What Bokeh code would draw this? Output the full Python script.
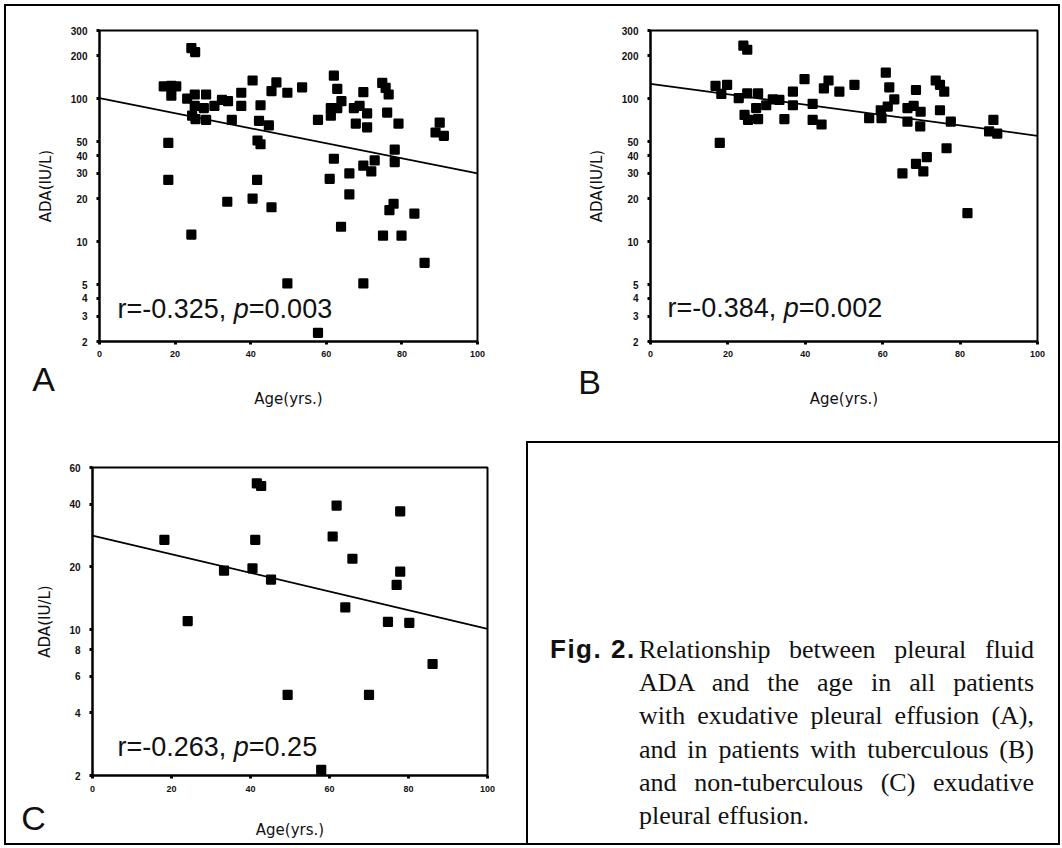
from bokeh.plotting import figure
from bokeh.models import Range1d, FixedTicker, NumeralTickFormatter, Label, Div
from bokeh.layouts import row, column
from bokeh.embed import file_html
from bokeh.resources import INLINE

# ---------------- data ----------------
x_ticks = [0, 20, 40, 60, 80, 100]
ab_y_ticks = [2, 3, 4, 5, 10, 20, 30, 40, 50, 100, 200, 300]
c_y_ticks = [2, 4, 6, 8, 10, 20, 40, 60]

# Panel A: all exudative effusions
a_age = [24.3, 25.3, 17.0, 19.0, 20.3, 19.0, 23.2, 25.2, 28.2, 25.2, 27.6, 24.5, 25.4,
         28.2, 30.4, 32.4, 34.0, 35.0, 37.5, 37.5, 40.5, 42.6, 42.2, 44.8, 46.8, 45.5,
         49.7, 41.8, 42.6, 18.2, 18.2, 41.7, 33.8, 40.5, 45.5, 24.3, 49.7,
         53.6, 62.0, 62.9, 64.0, 61.2, 61.2, 62.9, 57.8, 69.8, 67.3, 68.8, 70.8, 67.8,
         70.8, 74.8, 75.7, 76.5, 76.1, 79.1, 90.0, 88.9, 91.1, 62.0, 72.8, 78.1, 78.1,
         69.8, 71.9, 66.1, 60.9, 66.1, 77.8, 76.7, 83.3, 63.9, 75.0, 79.9, 86.0, 69.8, 57.8]
a_ada = [226, 212, 122, 123, 122, 105, 100, 107, 107, 89, 86, 76, 72,
         71, 89, 98, 96, 71, 110, 89, 134, 90, 70, 65, 130, 113,
         110, 51, 48, 49, 27, 27, 19, 20, 17.4, 11.2, 5.1,
         120, 145, 117, 96, 86, 76, 86, 71, 111, 86, 89, 79, 67,
         63, 129, 119, 107, 80, 67, 68, 58, 55, 38, 37, 44, 36,
         34, 31, 30, 27.5, 21.4, 18.4, 16.6, 15.7, 12.7, 11.0, 11.0, 7.1, 5.1, 2.3]

# Panel B: tuberculous effusions
b_age = [24.0, 25.0, 16.8, 19.8, 18.3, 22.8, 25.0, 27.8, 24.3, 25.2, 27.3, 27.8, 29.9,
         31.6, 33.3, 34.6, 36.8, 36.8, 39.8, 41.9, 41.9, 44.2, 44.8, 46.0, 48.8, 52.7,
         56.5, 60.8, 61.7, 59.5, 59.7, 61.3, 63.0, 68.6, 66.4, 68.0, 69.8, 66.4, 69.7,
         73.7, 74.8, 75.9, 74.8, 77.6, 88.6, 87.5, 89.6, 17.9, 76.5, 71.4, 68.6, 70.5,
         65.1, 81.9]
b_ada = [235, 220, 123, 125, 108, 101, 109, 109, 77, 71, 86, 72, 90,
         99, 98, 72, 112, 90, 137, 92, 71, 66, 118, 134, 112, 125,
         73, 152, 120, 83, 73, 88, 99, 115, 86, 89, 81, 69, 64,
         134, 125, 112, 83, 69, 71, 59, 57, 49, 45, 39, 35, 31,
         30, 15.8]

# Panel C: non-tuberculous effusions
c_age = [41.6, 42.7, 61.8, 77.9, 18.2, 41.2, 60.8, 65.8, 33.3, 40.5, 45.2, 77.9, 77.0,
         64.0, 24.1, 74.8, 80.2, 86.1, 49.4, 70.0, 57.9]
c_ada = [50.4, 48.9, 39.4, 37.0, 27.0, 27.0, 28.0, 21.9, 19.2, 19.7, 17.4, 19.0, 16.4,
         12.8, 11.0, 10.9, 10.8, 6.85, 4.87, 4.87, 2.13]

# regression lines (value at age 0 and at age 100)
fit_age = [0, 100]
a_fit = [101, 30]
b_fit = [127, 55]
c_fit = [28.3, 10.1]

a_stat = ("-0.325", "0.003")
b_stat = ("-0.384", "0.002")
c_stat = ("-0.263", "0.25")

caption_lines = [
    "Relationship between pleural fluid",
    "ADA and the age in all patients",
    "with exudative pleural effusion (A),",
    "and in patients with tuberculous (B)",
    "and non-tuberculous (C) exudative",
    "pleural effusion.",
]

# ---------------- helpers ----------------
ARIAL_W = {'r': 0.333, '=': 0.584, '-': 0.333, '.': 0.278, ',': 0.278, ' ': 0.278, 'p': 0.556}


def text_w(s, fs):
    return sum(ARIAL_W.get(ch, 0.556) for ch in s) * fs


def panel(width, height, mbl, mbr, mbt, mbb, y_lo, y_hi, yticks, ages, vals, fit,
          stat, stat_pos, letter, letter_pos, ylab_sd, xtick_sd, xlab_sd):
    p = figure(width=width, height=height, x_range=Range1d(0, 100),
               y_range=Range1d(y_lo, y_hi), y_axis_type="log",
               output_backend="svg", toolbar_location=None,
               min_border_left=mbl, min_border_right=mbr,
               min_border_top=mbt, min_border_bottom=mbb)
    p.grid.visible = False
    p.outline_line_color = "black"
    p.outline_line_width = 2
    p.background_fill_color = "white"
    p.border_fill_color = "white"

    for ax in p.axis:
        ax.axis_line_color = "black"
        ax.axis_line_width = 2
        ax.major_tick_line_color = "black"
        ax.major_tick_line_width = 3
        ax.major_tick_in = 0
        ax.major_tick_out = 3
        ax.minor_tick_line_color = None
        ax.major_label_text_font = "Liberation Sans"
        ax.major_label_text_font_style = "bold"
        ax.major_label_text_color = "#111111"
        ax.axis_label_text_font = "DejaVu Sans"
        ax.axis_label_text_font_style = "normal"
        ax.axis_label_text_font_size = "15px"
        ax.axis_label_text_color = "#111111"

    p.xaxis.ticker = FixedTicker(ticks=x_ticks)
    p.xaxis.major_label_text_font_size = "9px"
    p.xaxis.major_label_standoff = xtick_sd
    p.xaxis.axis_label = "Age(yrs.)"
    p.xaxis.axis_label_standoff = xlab_sd

    p.yaxis.ticker = FixedTicker(ticks=yticks)
    p.yaxis.formatter = NumeralTickFormatter(format="0")
    p.yaxis.major_label_text_font_size = "10px"
    p.yaxis.major_label_standoff = 9
    p.yaxis.axis_label = "ADA(IU/L)"
    p.yaxis.axis_label_standoff = ylab_sd

    p.line(fit_age, fit, line_color="black", line_width=1.7)
    p.scatter(ages, vals, marker="square", size=8, fill_color="black",
              line_color="black", line_width=2.2, line_join="round")

    # r / p statistic text (p in italics)
    fs = 27
    sx, sy = stat_pos
    part1 = "r=" + stat[0] + ","
    w1 = text_w(part1 + " ", fs)
    wp = text_w("p", fs)
    common = dict(x_units="screen", y_units="screen", text_font="Liberation Sans",
                  text_font_size=f"{fs}px", text_baseline="middle", text_align="left",
                  text_color="#111111")
    p.add_layout(Label(x=sx, y=sy, text=part1, **common))
    p.add_layout(Label(x=sx + w1, y=sy, text="p", text_font_style="italic", **common))
    p.add_layout(Label(x=sx + w1 + wp, y=sy, text="=" + stat[1], **common))

    # panel letter, kept in the left side panel so it is not clipped by the frame
    lx, ly = letter_pos
    p.add_layout(Label(x=lx, y=ly, text=letter, x_units="screen", y_units="screen",
                       text_font="Liberation Sans", text_font_size="34px",
                       text_align="center", text_baseline="middle",
                       text_color="#111111"), "left")
    return p


figA = panel(521, 435, 93, 50, 24, 100, 2, 300, ab_y_ticks, a_age, a_ada, a_fit,
             a_stat, (18, 33), "A", (33, -37), 13, 6, 30)
figB = panel(531, 435, 123, 21, 21, 100, 2, 300, ab_y_ticks, b_age, b_ada, b_fit,
             b_stat, (17, 34), "B", (28, -40), 13, 6, 30)
figC = panel(520, 402, 86, 39, 26, 68, 2, 60, c_y_ticks, c_age, c_ada, c_fit,
             c_stat, (25, 29), "C", (25, -42), 12, 7, 26)


def bar(w, h, color="#000000"):
    return Div(text="", width=w, height=h, margin=0,
               styles={"background-color": color})


line_divs = []
for i, ln in enumerate(caption_lines):
    if i < len(caption_lines) - 1:
        line_divs.append(f'<div style="text-align:justify;text-align-last:justify;">{ln}</div>')
    else:
        line_divs.append(f'<div style="text-align:left;">{ln}</div>')

cap_html = (
    '<div style="position:relative;width:530px;height:400px;color:#111;">'
    '<div style="position:absolute;left:22px;top:190px;font-family:\'Liberation Sans\',sans-serif;'
    'font-weight:bold;font-size:26px;line-height:33.2px;letter-spacing:1.5px;white-space:nowrap;">Fig. 2.</div>'
    '<div style="position:absolute;left:111px;top:190px;width:395px;'
    'font-family:\'Liberation Serif\',serif;font-size:26px;line-height:33.2px;">'
    + "".join(line_divs) +
    '</div></div>'
)
cap = Div(text=cap_html, width=530, height=400, margin=0)

cap_block = column(bar(532, 2), row(bar(2, 400), cap))
inner = column(row(figA, figB), row(figC, cap_block))
framed = column(bar(1056, 2), row(bar(2, 837), inner, bar(2, 837)), bar(1056, 2))
page = column(bar(1060, 4, "#ffffff"), row(bar(4, 841, "#ffffff"), framed))

open("out.html", "w").write(file_html(page, INLINE))
